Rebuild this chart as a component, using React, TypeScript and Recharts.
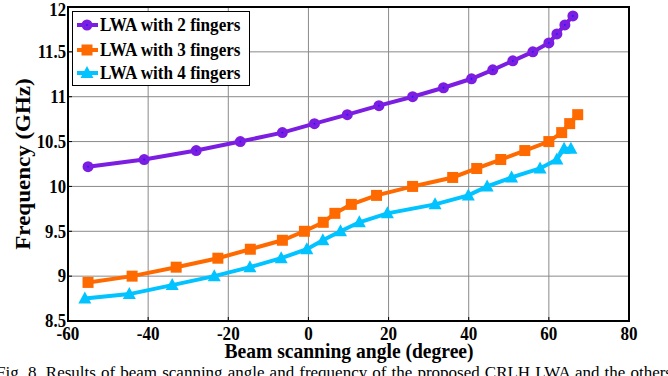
import React from "react";
import { LineChart, Line, XAxis, YAxis, CartesianGrid, ReferenceArea } from "recharts";

const xTicks = [-60, -40, -20, 0, 20, 40, 60, 80];
const yTicks = [8.5, 9, 9.5, 10, 10.5, 11, 11.5, 12];

// LWA with 2 fingers
const angle2 = [-55, -41, -28, -17, -6.5, 1.5, 9.7, 17.6, 26, 33.7, 40.7, 46, 51, 56, 60, 62, 64, 66];
const freq2 = [10.22, 10.3, 10.4, 10.5, 10.6, 10.7, 10.8, 10.9, 11.0, 11.1, 11.2, 11.3, 11.4, 11.5, 11.6, 11.7, 11.8, 11.9];

// LWA with 3 fingers
const angle3 = [-55, -44, -33, -22.6, -14.5, -6.5, -1, 3.7, 6.6, 10.7, 17, 26, 36, 42, 48, 54, 60, 63.2, 65.2, 67.2];
const freq3 = [8.93, 9.0, 9.1, 9.2, 9.3, 9.4, 9.5, 9.6, 9.7, 9.8, 9.9, 10.0, 10.1, 10.2, 10.3, 10.4, 10.5, 10.6, 10.7, 10.8];

// LWA with 4 fingers
const angle4 = [-55.8, -44.7, -34, -23.5, -14.6, -6.8, -0.4, 3.6, 8, 12.7, 19.7, 31.6, 39.9, 44.6, 50.7, 57.8, 62, 63.8, 65.5];
const freq4 = [8.75, 8.8, 8.9, 9.0, 9.1, 9.2, 9.3, 9.4, 9.5, 9.6, 9.7, 9.8, 9.9, 10.0, 10.1, 10.2, 10.3, 10.42, 10.42];

const names = ["LWA with 2 fingers", "LWA with 3 fingers", "LWA with 4 fingers"];
const colors = ["#7c1ee2", "#ff6a00", "#00c3ff"];
const kinds = ["circle", "square", "triangle"];

const toPoints = (xs: number[], ys: number[]) => xs.map((x, i) => ({ x, y: ys[i] }));
const series = [toPoints(angle2, freq2), toPoints(angle3, freq3), toPoints(angle4, freq4)];

const serif = '"Liberation Serif", "Times New Roman", serif';

function Marker({ kind, cx, cy, color }: { kind: string; cx: number; cy: number; color: string }) {
  if (kind === "circle")
    return (
      <g>
        <circle cx={cx} cy={cy} r={5.5} fill={color} />
        <circle cx={cx} cy={cy} r={0.9} fill="#1a1aff" />
      </g>
    );
  if (kind === "square") return <rect x={cx - 5.5} y={cy - 5.5} width={11} height={11} fill={color} />;
  return <polygon points={`${cx},${cy - 7} ${cx + 6.5},${cy + 5} ${cx - 6.5},${cy + 5}`} fill={color} />;
}

// bold Times, slightly narrow like the original
const XTick = (p: any) => (
  <text
    transform={`translate(${p.x},340) scale(0.9,1)`}
    textAnchor="middle"
    fontFamily={serif}
    fontWeight="bold"
    fontSize={19}
    fill="#000"
  >
    {p.payload.value}
  </text>
);

const YTick = (p: any) => (
  <text
    transform={`translate(66,${Math.max(p.y + 6.3, 16)}) scale(0.88,1)`}
    textAnchor="end"
    fontFamily={serif}
    fontWeight="bold"
    fontSize={19}
    fill="#000"
  >
    {p.payload.value}
  </text>
);

const legendRows = [25, 50, 73];

export default function App() {
  return (
    <div style={{ position: "absolute", left: 0, top: 0, width: 668, height: 376, overflow: "hidden", background: "#fff" }}>
      <LineChart width={668} height={345} margin={{ top: 7, right: 39, left: 0, bottom: 0 }}>
        <CartesianGrid stroke="#8a8a8a" strokeWidth={1} />
        <XAxis
          type="number"
          dataKey="x"
          domain={[-60, 80]}
          ticks={xTicks}
          allowDataOverflow
          height={24}
          axisLine={false}
          tickSize={-4}
          tickLine={{ stroke: "#000" }}
          tick={XTick}
        />
        <XAxis xAxisId="top" orientation="top" type="number" domain={[-60, 80]} ticks={xTicks} height={0} axisLine={false} tick={false} tickSize={-4} tickLine={{ stroke: "#000" }} />
        <YAxis
          type="number"
          domain={[8.5, 12]}
          ticks={yTicks}
          allowDataOverflow
          width={68}
          axisLine={false}
          tickSize={-4}
          tickLine={{ stroke: "#000" }}
          tick={YTick}
        />
        <YAxis yAxisId="right" orientation="right" type="number" domain={[8.5, 12]} ticks={yTicks} width={0} axisLine={false} tick={false} tickSize={-4} tickLine={{ stroke: "#000" }} />
        <ReferenceArea x1={-60} x2={80} y1={8.5} y2={12} fill="none" stroke="#000" strokeWidth={2} ifOverflow="visible" />
        {series.map((pts, s) => (
          <Line
            key={names[s]}
            data={pts}
            dataKey="y"
            name={names[s]}
            stroke={colors[s]}
            strokeWidth={4}
            isAnimationActive={false}
            dot={(p: any) => <Marker key={`${s}-${p.index}`} kind={kinds[s]} cx={p.cx} cy={p.cy} color={colors[s]} />}
            activeDot={false}
          />
        ))}
      </LineChart>

      <div
        style={{
          position: "absolute",
          left: 72,
          top: 11,
          width: 176,
          height: 73,
          border: "1.5px solid #000",
          background: "#fff",
        }}
      />
      {names.map((n, i) => (
        <React.Fragment key={n}>
          <svg width={28} height={24} style={{ position: "absolute", left: 74, top: legendRows[i] - 12 }}>
            <line x1={3} y1={12} x2={24} y2={12} stroke={colors[i]} strokeWidth={4} />
            <Marker kind={kinds[i]} cx={13} cy={12} color={colors[i]} />
          </svg>
          <div
            style={{
              position: "absolute",
              left: 100,
              top: legendRows[i] - 12,
              height: 24,
              lineHeight: "24px",
              fontFamily: serif,
              fontWeight: "bold",
              fontSize: 19,
              whiteSpace: "nowrap",
              transform: "scaleX(0.9)",
              transformOrigin: "left center",
            }}
          >
            {n}
          </div>
        </React.Fragment>
      ))}

      <div
        style={{
          position: "absolute",
          left: 23,
          top: 164,
          transform: "translate(-50%, -50%) rotate(-90deg) scaleY(0.91)",
          fontFamily: serif,
          fontWeight: "bold",
          fontSize: 23,
          lineHeight: 1,
          whiteSpace: "nowrap",
        }}
      >
        Frequency (GHz)
      </div>
      <div
        style={{
          position: "absolute",
          left: 349,
          top: 341,
          transform: "translateX(-50%) scaleX(0.91)",
          fontFamily: serif,
          fontWeight: "bold",
          fontSize: 21.5,
          lineHeight: 1,
          whiteSpace: "nowrap",
        }}
      >
        Beam scanning angle (degree)
      </div>
      <div
        style={{
          position: "absolute",
          left: -4,
          top: 364,
          width: 676,
          fontFamily: serif,
          fontSize: 17,
          lineHeight: 1,
          textAlign: "justify",
          textAlignLast: "justify",
          whiteSpace: "nowrap",
        }}
      >
        Fig. 8. Results of beam scanning angle and frequency of the proposed CRLH LWA and the others
      </div>
    </div>
  );
}
